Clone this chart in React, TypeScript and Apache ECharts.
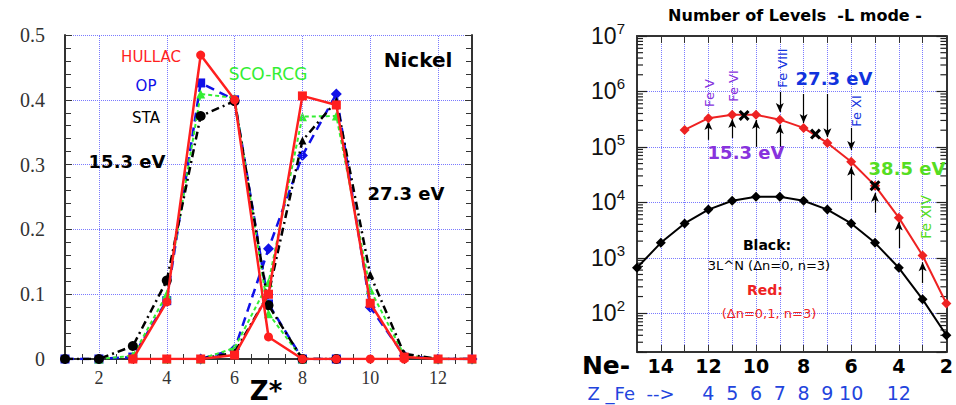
import React, { useEffect, useRef } from 'react';
import * as echarts from 'echarts';

// ---------- Left panel data (fraction vs Z*) ----------
const zStar = [1, 2, 3, 4, 5, 6, 7, 8, 9, 10, 11, 12, 13];
const hullac15 = [null, null, 0, 0.088, 0.469, 0.4, 0.034, 0, 0, 0, 0, null, null];
const op15 = [0, 0, 0.003, 0.09, 0.426, 0.4, 0.085, 0, 0, null, null, null, null];
const sco15 = [null, 0, 0.005, 0.1, 0.409, 0.403, 0.07, 0, null, null, null, null, null];
const sta15 = [0, 0, 0.02, 0.121, 0.375, 0.398, 0.083, 0, 0, null, null, null, null];
const hullac27 = [null, null, 0, 0, 0, 0.006, 0.1, 0.406, 0.392, 0.086, 0.003, 0, 0];
const op27 = [null, null, null, null, 0, 0.015, 0.17, 0.314, 0.409, 0.08, 0.005, 0, 0];
const sco27 = [null, null, null, 0, 0, 0.017, 0.118, 0.374, 0.375, 0.107, 0.006, 0, 0];
const sta27 = [null, null, null, null, 0, 0.01, 0.1, 0.337, 0.398, 0.13, 0.008, 0, 0];
const leftXGrid = [2, 4, 6, 8, 10, 12];

// ---------- Right panel data (number of levels vs Ne-) ----------
const neRed = [13, 12, 11, 10, 9, 8, 7, 6, 5, 4, 3, 2];
const levelsRed = [2.02e5, 3.3e5, 3.8e5, 3.8e5, 3.1e5, 2.2e5, 1.18e5, 5.4e4, 2.0e4, 5.3e3, 1.1e3, 150];
const neBlack = [15, 14, 13, 12, 11, 10, 9, 8, 7, 6, 5, 4, 3, 2];
const levelsBlack = [660, 1860, 4170, 7400, 10700, 12600, 12600, 10700, 7400, 4170, 1860, 660, 178, 40];
const crossNe = [10.5, 7.5, 5];
const crossLevels = [3.7e5, 1.7e5, 2.0e4];
// arrows: [Ne, from, to]
const arrowsUp = [
  [12, 1.34e5, 2.94e5],
  [11, 1.45e5, 3.2e5],
  [10, 1.0e5, 3.06e5],
  [9, 1.0e5, 2.49e5],
  [6, 1.1e4, 4.4e4],
  [5, 6.5e3, 1.48e4],
  [4, 1.5e3, 4.5e3],
  [3, 350, 830],
];
const arrowsDown = [
  [9, 9.8e5, 4.27e5],
  [8, 9.0e5, 2.7e5],
  [7, 9.0e5, 1.5e5],
  [6, 2.2e5, 8.8e4],
];
const zFeNe = [12, 11, 10, 9, 8, 7, 6, 4];
const zFeLabels = ['4', '5', '6', '7', '8', '9', '10', '12'];
const minorLevels: number[] = [];
for (let e = 1; e <= 6; e++) for (let m = 2; m <= 9; m++) { const v = m * Math.pow(10, e); if (v >= 20 && v < 1e7) minorLevels.push(v); }

const GRID_BLUE = '#7a7aff';
const RED = '#ff1f1f';
const BLUE = '#1010e8';
const GREEN = '#33ee33';
const SANS = 'DejaVu Sans';

function pairs(arr: (number | null)[]) {
  return zStar.map((z, i) => [z, arr[i]]).filter((p) => p[1] !== null);
}

function leftLine(arr: (number | null)[], color: string, symbol: string, lineType: any, width: number, size: number, z: number) {
  return {
    type: 'line', xAxisIndex: 0, yAxisIndex: 0, data: pairs(arr), symbol, symbolSize: size,
    lineStyle: { color, width, type: lineType }, itemStyle: { color }, z, silent: true,
  };
}

function txt(text: string, x: number, y: number, fill: string, size: number, weight: string = 'normal', rot = 0, family = SANS) {
  return {
    type: 'text', x, y, rotation: rot, z: 100,
    style: { text, fill, fontSize: size, fontWeight: weight, fontFamily: family, align: 'center', verticalAlign: 'middle', textAlign: 'center', textVerticalAlign: 'middle' },
  };
}

export default function App() {
  const ref = useRef<HTMLDivElement>(null);
  useEffect(() => {
    const chart = echarts.init(ref.current!, null, { renderer: 'svg' });
    const frame = { show: true, lineStyle: { color: '#333', width: 2 } };
    const option: any = {
      animation: false,
      backgroundColor: '#fff',
      grid: [
        { left: 65, top: 35, right: 484, bottom: 46 },
        { left: 637, top: 36, right: 3, bottom: 53 },
      ],
      xAxis: [
        {
          gridIndex: 0, type: 'value', position: 'bottom', min: 1, max: 13, interval: 0.5,
          axisLine: frame, axisTick: { inside: true, length: 5, lineStyle: { color: '#333' } },
          axisLabel: { margin: 10, fontFamily: 'Liberation Serif', fontSize: 18, color: '#333', formatter: (v: number) => (Number.isInteger(v) && v % 2 === 0 ? String(v) : '') },
          splitLine: { show: false },
        },
        {
          gridIndex: 0, type: 'value', position: 'top', min: 1, max: 13, interval: 0.5,
          axisLine: frame, axisTick: { inside: true, length: 5, lineStyle: { color: '#333' } },
          axisLabel: { show: false }, splitLine: { show: false },
        },
        {
          gridIndex: 1, type: 'value', position: 'bottom', min: 2, max: 15, interval: 1, inverse: true,
          axisLine: frame, axisTick: { inside: true, length: 7, lineStyle: { color: '#333' } },
          axisLabel: { margin: 4, fontFamily: SANS, fontWeight: 'bold', fontSize: 19, color: '#000', formatter: (v: number) => (v % 2 === 0 ? String(v) : '') },
          splitLine: { show: true, lineStyle: { color: GRID_BLUE, type: 'dotted', width: 1 } },
        },
        {
          gridIndex: 1, type: 'value', position: 'top', min: 2, max: 15, interval: 1, inverse: true,
          axisLine: frame, axisTick: { inside: true, length: 7, lineStyle: { color: '#333' } },
          axisLabel: { show: false }, splitLine: { show: false },
        },
        {
          gridIndex: 1, type: 'value', position: 'bottom', min: 2, max: 15, interval: 1, inverse: true,
          axisLine: { show: false }, axisTick: { show: false }, splitLine: { show: false },
          axisLabel: {
            margin: 31, fontFamily: SANS, fontSize: 19, color: '#2244dd',
            formatter: (v: number) => { const i = zFeNe.indexOf(v); return i >= 0 ? zFeLabels[i] : ''; },
          },
        },
      ],
      yAxis: [
        {
          gridIndex: 0, type: 'value', position: 'left', min: 0, max: 0.5, interval: 0.1,
          axisLine: frame, axisTick: { inside: true, length: 7, lineStyle: { color: '#333' } },
          minorTick: { show: true, splitNumber: 5, length: 6, lineStyle: { color: '#333' } },
          axisLabel: { margin: 20, fontFamily: 'Liberation Serif', fontSize: 20, color: '#333', formatter: (v: number) => (v === 0 ? '0' : v.toFixed(1)) },
          splitLine: { show: true, lineStyle: { color: GRID_BLUE, type: 'dotted', width: 1 } },
        },
        {
          gridIndex: 0, type: 'value', position: 'right', min: 0, max: 0.5, interval: 0.1,
          axisLine: frame, axisTick: { inside: true, length: 7, lineStyle: { color: '#333' } },
          minorTick: { show: true, splitNumber: 5, length: 6, lineStyle: { color: '#333' } },
          axisLabel: { show: false }, splitLine: { show: false },
        },
        {
          gridIndex: 1, type: 'log', logBase: 10, position: 'left', min: 20, max: 1e7,
          axisLine: frame, axisTick: { inside: true, length: 10, lineStyle: { color: '#222', width: 1.2 } },
          axisLabel: {
            margin: 12, color: '#111',
            formatter: (v: number) => { const n = Math.log10(v); const r = Math.round(n); if (Math.abs(n - r) > 1e-6) return ''; return `{b|10}{s|${r}}`; },
            rich: {
              b: { fontFamily: 'Liberation Sans', fontSize: 23, lineHeight: 30, color: '#111' },
              s: { fontFamily: 'Liberation Sans', fontSize: 15, lineHeight: 15, verticalAlign: 'top', color: '#111' },
            },
          },
          splitLine: { show: true, lineStyle: { color: GRID_BLUE, type: 'dotted', width: 1 } },
        },
        {
          gridIndex: 1, type: 'log', logBase: 10, position: 'right', min: 20, max: 1e7,
          axisLine: frame, axisTick: { inside: true, length: 10, lineStyle: { color: '#222', width: 1.2 } },
          axisLabel: { show: false }, splitLine: { show: false },
        },
      ],
      series: [
        {
          type: 'line', xAxisIndex: 0, yAxisIndex: 0, data: [[1, 0]], symbol: 'none', lineStyle: { opacity: 0 }, z: 1, silent: true,
          markLine: { silent: true, symbol: 'none', label: { show: false }, lineStyle: { color: GRID_BLUE, type: 'dotted', width: 1 }, data: leftXGrid.map((v) => ({ xAxis: v })) },
        },
        leftLine(op27, BLUE, 'diamond', [9, 6], 2.5, 11, 3),
        leftLine(op15, BLUE, 'rect', [9, 6], 2.5, 9, 3),
        leftLine(sco27, GREEN, 'triangle', [4, 3], 2, 9, 4),
        leftLine(sco15, GREEN, 'triangle', [4, 3], 2, 9, 4),
        leftLine(sta27, '#000', 'triangle', [8, 4, 2, 4], 2.5, 8, 5),
        leftLine(sta15, '#000', 'circle', [8, 4, 2, 4], 2.5, 10, 5),
        leftLine(hullac27, RED, 'rect', 'solid', 2.5, 9, 6),
        leftLine(hullac15, RED, 'circle', 'solid', 2.5, 9, 6),
        {
          type: 'custom', xAxisIndex: 2, yAxisIndex: 2, silent: true, z: 3, clip: false,
          data: minorLevels.map((v) => [15, v]),
          renderItem: (params: any, api: any) => {
            const v = api.value(1);
            const l = api.coord([15, v]);
            const r = api.coord([2, v]);
            return {
              type: 'group', children: [
                { type: 'line', shape: { x1: l[0], y1: l[1], x2: l[0] + 6, y2: l[1] }, style: { stroke: '#222', lineWidth: 1.2 } },
                { type: 'line', shape: { x1: r[0], y1: r[1], x2: r[0] - 6, y2: r[1] }, style: { stroke: '#222', lineWidth: 1.2 } },
              ],
            };
          },
        },
        {
          type: 'line', xAxisIndex: 2, yAxisIndex: 2, data: neBlack.map((n, i) => [n, levelsBlack[i]]),
          symbol: 'diamond', symbolSize: 10, lineStyle: { color: '#000', width: 2 }, itemStyle: { color: '#000' }, z: 4, silent: true,
        },
        {
          type: 'line', xAxisIndex: 2, yAxisIndex: 2, data: neRed.map((n, i) => [n, levelsRed[i]]),
          symbol: 'diamond', symbolSize: 10, lineStyle: { color: '#ee2222', width: 2 }, itemStyle: { color: '#ee2222' }, z: 5, silent: true,
        },
        {
          type: 'scatter', xAxisIndex: 2, yAxisIndex: 2, data: crossNe.map((n, i) => [n, crossLevels[i]]),
          symbol: 'path://M0,2L2,0L5,3L8,0L10,2L7,5L10,8L8,10L5,7L2,10L0,8L3,5Z', symbolSize: 11,
          itemStyle: { color: '#000', opacity: 1 }, z: 6, silent: true,
          markLine: {
            silent: true, symbol: ['none', 'arrow'], symbolSize: [6, 9], label: { show: false },
            lineStyle: { color: '#000', width: 1.2, type: 'solid' },
            data: [...arrowsUp, ...arrowsDown].map((a) => [{ coord: [a[0], a[1]] }, { coord: [a[0], a[2]] }]),
          },
        },
      ],
      graphic: [
        txt('HULLAC', 151, 57, RED, 15),
        txt('OP', 146, 86, BLUE, 15),
        txt('STA', 146, 118, '#000', 15),
        txt('15.3 eV', 127, 161, '#000', 18, 'bold'),
        txt('SCO-RCG', 268, 74, GREEN, 17),
        txt('Nickel', 418, 60, '#000', 20, 'bold'),
        txt('27.3 eV', 406, 193, '#000', 18, 'bold'),
        txt('Z*', 266, 391, '#000', 26, 'bold'),
        txt('Number of Levels  -L mode -', 795, 15, '#000', 16, 'bold'),
        txt('Fe V', 709, 93, '#8833dd', 13, 'normal', Math.PI / 2),
        txt('Fe VI', 733, 86, '#8833dd', 13, 'normal', Math.PI / 2),
        txt('Fe VIII', 782, 68, '#1133dd', 13, 'normal', Math.PI / 2),
        txt('Fe XI', 856, 111, '#1133dd', 13, 'normal', Math.PI / 2),
        txt('Fe XIV', 926, 217, '#55dd22', 14, 'normal', Math.PI / 2),
        txt('27.3 eV', 834, 78, '#1133dd', 18, 'bold'),
        txt('15.3 eV', 746, 152, '#8833dd', 18, 'bold'),
        txt('38.5 eV', 907, 168, '#55dd22', 18, 'bold'),
        txt('Black:', 767, 245, '#000', 14, 'bold'),
        txt('3L^N (\u0394n=0, n=3)', 769, 265, '#000', 13),
        txt('Red:', 765, 290, '#ee2222', 14, 'bold'),
        txt('(\u0394n=0,1, n=3)', 769, 313, '#ee2222', 13),
        txt('Ne-', 606, 365, '#000', 25, 'bold'),
        txt('Z _Fe  -->', 631, 393, '#2244dd', 18),
      ],
    };
    chart.setOption(option);
    return () => chart.dispose();
  }, []);
  return <div ref={ref} style={{ position: 'absolute', left: 0, top: 0, width: 956, height: 405 }} />;
}
